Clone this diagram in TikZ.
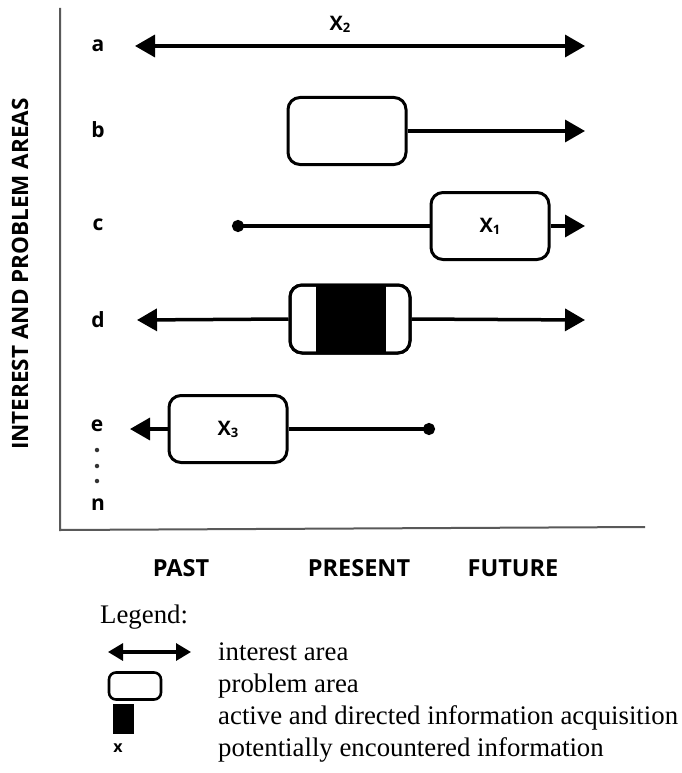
\documentclass[tikz,border=0pt]{standalone}
\usepackage{fontspec}
\setmainfont{Liberation Serif}
\newfontfamily\labfont{Open Sans}
\usetikzlibrary{arrows.meta}

% subscripted marker label such as X_1
\newcommand{\xmark}[1]{{\labfont\bfseries\fontsize{20}{22}\selectfont X\raisebox{-2pt}{\fontsize{13}{13}\selectfont #1}}}

\begin{document}
\begin{tikzpicture}[x=1pt,y=-1pt,
  track/.style={line width=3.5pt},
  headr/.style={track,-{Triangle[length=20pt,width=22pt]}},
  headl/.style={track,{Triangle[length=20pt,width=22pt]}-},
  headlr/.style={track,{Triangle[length=20pt,width=22pt]}-{Triangle[length=20pt,width=22pt]}},
  dotl/.style={track,{Circle[length=12pt]}-},
  dotr/.style={track,-{Circle[length=12pt]}},
  pbox/.style={draw,line width=3pt,rounded corners=12pt,fill=white,
    minimum width=118pt,minimum height=67pt,inner sep=0pt},
  rowlab/.style={font=\labfont\bfseries\fontsize{21}{22}\selectfont},
  gapdot/.style={circle,fill=black!80,inner sep=0pt,minimum size=4.5pt},
  timelab/.style={font=\labfont\bfseries\fontsize{23.5}{26}\selectfont},
  legtext/.style={anchor=west,font=\fontsize{26.8}{30}\selectfont,inner sep=0pt},
  axis/.style={draw=black!65,line width=2pt}]
\useasboundingbox (0,0) rectangle (681,773);

% axes
\coordinate (top) at (60,8);
\coordinate (origin) at (60,530);
\coordinate (right) at (645,527);
\draw[axis] (top) -- (origin) -- (right);
\node[rotate=90,font=\labfont\bfseries\fontsize{22.5}{24}\selectfont] (ylab) at (20,274) {INTEREST AND PROBLEM AREAS};

% row labels
\node[rowlab] (la) at (98,46) {a};
\node[rowlab] (lb) at (98,130) {b};
\node[rowlab] (lc) at (98,225) {c};
\node[rowlab] (ld) at (98,320) {d};
\node[rowlab] (le) at (97,426) {e};
\node[gapdot] (dt1) at (97,450) {};
\node[gapdot] (dt2) at (97,466) {};
\node[gapdot] (dt3) at (97,481) {};
\node[rowlab] (ln) at (98,505) {n};

% row a
\coordinate (a1) at (135,46);
\coordinate (a2) at (585,46);
\draw[headlr] (a1) -- (a2);
\node (x2) at (340,24) {\xmark{2}};

% row b
\node[pbox] (b) at (347,131) {};
\coordinate (b2) at (585,131);
\draw[headr] (b.east) -- (b2);

% row c
\node[pbox] (c) at (490,226) {\xmark{1}};
\coordinate (c1) at (232,226);
\coordinate (c2) at (585,226);
\draw[dotl] (c1) -- (c.west);
\draw[headr] (c.east) -- (c2);

% row d
\node[pbox,minimum width=120pt,minimum height=68pt] (d) at (350,319) {};
\fill (316,285) rectangle (386,353);
\node[pbox,fill=none,minimum width=120pt,minimum height=68pt] (dframe) at (350,319) {};
\coordinate (d1) at (137,320);
\coordinate (d2) at (585,320);
\draw[headl] (d1) -- (d.west);
\draw[headr] (d.east) -- (d2);

% row e
\node[pbox] (e) at (228,429) {\xmark{3}};
\coordinate (e1) at (130,429);
\coordinate (e2) at (435,429);
\draw[headl] (e1) -- (e.west);
\draw[dotr] (e.east) -- (e2);

% time labels
\node[timelab] (past) at (181,568) {PAST};
\node[timelab] (present) at (359,568) {PRESENT};
\node[timelab] (future) at (513,568) {FUTURE};

% legend
\node[legtext] (leg) at (100,617) {Legend:};
\coordinate (l1) at (108,652);
\coordinate (l2) at (191,652);
\draw[line width=3.2pt,{Triangle[length=15pt,width=17pt]}-{Triangle[length=15pt,width=17pt]}] (l1) -- (l2);
\node[draw,line width=2.6pt,rounded corners=7pt,minimum width=52pt,minimum height=27pt,inner sep=0pt] (lbox) at (135,686) {};
\node[fill=black,minimum width=21pt,minimum height=30pt,inner sep=0pt] (lfill) at (123,719) {};
\node[font=\labfont\bfseries\fontsize{16}{16}\selectfont] (lx) at (118,748) {x};
\node[legtext] (t1) at (218,652) {interest area};
\node[legtext] (t2) at (218,686) {problem area};
\node[legtext] (t3) at (218,718) {active and directed information acquisition};
\node[legtext] (t4) at (218,750) {potentially encountered information};
\end{tikzpicture}
\end{document}
